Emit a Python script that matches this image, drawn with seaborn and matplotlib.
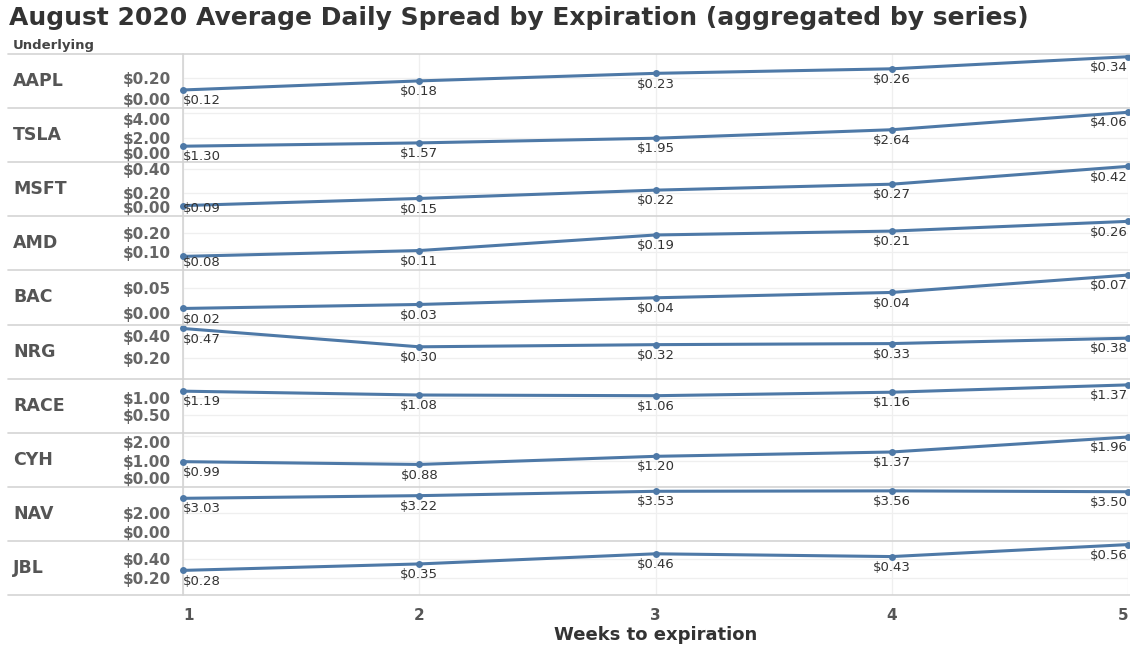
import pandas as pd
import seaborn as sns
import matplotlib.pyplot as plt
from matplotlib.lines import Line2D

# data
weeks = [1, 2, 3, 4, 5]
tickers = ["AAPL", "TSLA", "MSFT", "AMD", "BAC", "NRG", "RACE", "CYH", "NAV", "JBL"]

aapl = [0.12, 0.18, 0.23, 0.26, 0.34]
tsla = [1.30, 1.57, 1.95, 2.64, 4.06]
msft = [0.09, 0.15, 0.22, 0.27, 0.42]
amd = [0.08, 0.11, 0.19, 0.21, 0.26]
bac = [0.020, 0.026, 0.036, 0.044, 0.070]
nrg = [0.47, 0.30, 0.32, 0.33, 0.38]
race = [1.19, 1.08, 1.06, 1.16, 1.37]
cyh = [0.99, 0.88, 1.20, 1.37, 1.96]
nav = [3.03, 3.22, 3.53, 3.56, 3.50]
jbl = [0.28, 0.35, 0.46, 0.43, 0.56]
series = [aapl, tsla, msft, amd, bac, nrg, race, cyh, nav, jbl]

# y tick values shown per row
yticks = [[0, 0.2], [0, 2, 4], [0, 0.2, 0.4], [0.1, 0.2], [0, 0.05],
          [0.2, 0.4], [0.5, 1.0], [0, 1, 2], [0, 2], [0.2, 0.4]]
# row ranges
ylims = [(0, 0.358), (0, 4.4), (0, 0.455), (0.008, 0.286), (-0.004, 0.077),
         (0.005, 0.507), (0, 1.55), (0, 2.13), (0, 3.85), (0.013, 0.60)]

sns.set_style("white")
plt.rcParams["font.family"] = ["DejaVu Sans"]

W, H = 1130, 645
blue = "#4e79a7"
fig = plt.figure(figsize=(W / 100, H / 100), dpi=100)

left, right = 183 / W, 1128 / W
top_px, row_h = 54, 54.1

for i, (name, vals) in enumerate(zip(tickers, series)):
    y0 = 1 - (top_px + (i + 1) * row_h) / H
    ax = fig.add_axes([left, y0, right - left, row_h / H], facecolor="none")
    df = pd.DataFrame({"week": weeks, "spread": vals})
    sns.lineplot(data=df, x="week", y="spread", ax=ax, color=blue, lw=2.2,
                 marker="o", markersize=5, markeredgewidth=0, clip_on=False, zorder=3)
    ax.set_xlim(1, 5)
    ax.set_ylim(*ylims[i])
    ax.set_xlabel("")
    ax.set_ylabel("")
    ax.set_xticks(weeks)
    ax.set_yticks(yticks[i])
    ax.set_yticklabels([f"${t:.2f}" for t in yticks[i]], fontsize=11,
                       fontweight="bold", color="#666666")
    lo, hi = ylims[i]
    for t, lab in zip(yticks[i], ax.get_yticklabels()):
        if t - lo < 0.1 * (hi - lo):
            lab.set_va("bottom")
        elif hi - t < 0.1 * (hi - lo):
            lab.set_va("top")
    ax.tick_params(axis="y", length=0, pad=9)
    ax.grid(True, color="#efefef", lw=0.9)
    for s in ["top", "right", "bottom"]:
        ax.spines[s].set_visible(False)
    ax.spines["left"].set_color("#d4d4d4")
    ax.spines["left"].set_linewidth(1.2)

    if i == len(tickers) - 1:
        ax.set_xticklabels([str(w) for w in weeks], fontsize=11,
                           fontweight="bold", color="#555555")
        labs = ax.get_xticklabels()
        labs[0].set_ha("left")
        labs[-1].set_ha("right")
        ax.tick_params(axis="x", length=0, pad=9)
    else:
        ax.tick_params(axis="x", length=0, labelbottom=False)

    # point labels under each point, kept inside the row like Tableau does
    for j, (w, v) in enumerate(zip(weeks, vals)):
        ha = "left" if j == 0 else ("right" if j == len(weeks) - 1 else "center")
        room = (v - lo) / (hi - lo) * row_h
        if room < 15:
            ax.annotate(f"${v:.2f}", (w, lo), xytext=(0, 1), textcoords="offset points",
                        ha=ha, va="bottom", fontsize=9.5, color="#333333",
                        annotation_clip=False, zorder=4)
        else:
            ax.annotate(f"${v:.2f}", (w, v), xytext=(0, -3), textcoords="offset points",
                        ha=ha, va="top", fontsize=9.5, color="#333333",
                        annotation_clip=False, zorder=4)

    # row name
    fig.text(13 / W, 1 - (top_px + (i + 0.5) * row_h) / H, name, fontsize=12.5,
             fontweight="bold", color="#555555", va="center", ha="left")
    # row separator
    yb = 1 - (top_px + (i + 1) * row_h) / H
    fig.add_artist(Line2D([8 / W, 1], [yb, yb], color="#d4d4d4", lw=1.2))

# header line and labels
fig.add_artist(Line2D([8 / W, 1], [1 - top_px / H] * 2, color="#d4d4d4", lw=1.2))
fig.text(13 / W, 1 - 46 / H, "Underlying", fontsize=9.5, fontweight="bold",
         color="#444444", va="center", ha="left")
fig.text(9 / W, 1 - 18 / H,
         "August 2020 Average Daily Spread by Expiration (aggregated by series)",
         fontsize=18, fontweight="bold", color="#333333", va="center", ha="left")
fig.text((left + right) / 2, 1 - 635 / H, "Weeks to expiration", fontsize=13,
         fontweight="bold", color="#333333", va="center", ha="center")

fig.savefig("out.png", dpi=100)
